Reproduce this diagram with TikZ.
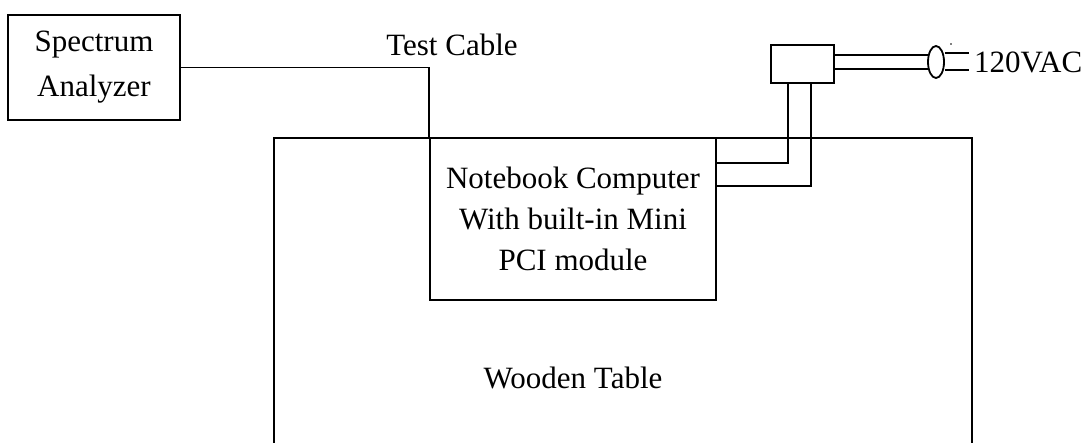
\documentclass[tikz,border=0pt]{standalone}
\usepackage{fontspec}
\setmainfont{Liberation Serif}
\usetikzlibrary{positioning,calc,shapes.geometric}

\begin{document}
\begin{tikzpicture}[x=1pt,y=-1pt,
  box/.style={rectangle,draw=black,line width=1.8pt,align=center,inner sep=0pt},
  lbl/.style={font=\fontsize{31}{45}\selectfont,inner sep=0pt},
  wire/.style={line width=1.8pt,color=black}]
\useasboundingbox (0,0) rectangle (1089,443);
% table outline, open at the bottom
\draw[wire] (274,446) -- (274,138) -- (972,138) -- (972,446);
\node[lbl] (tbl) at (573,378) {Wooden Table};
\node[box,minimum width=172pt,minimum height=105pt,font=\fontsize{31}{45}\selectfont] (sa) at (94,67.5) {Spectrum\\Analyzer};
\node[box,minimum width=286pt,minimum height=162pt,font=\fontsize{31}{41}\selectfont] (nb) at (573,219) {Notebook Computer\\With built-in Mini\\PCI module};
\node[box,minimum width=63pt,minimum height=38pt] (ad) at (802.5,64) {};
\node[lbl] (tc) at (452,45) {Test Cable};
% cable from analyzer to notebook
\draw[wire] (sa.east) -| (nb.north west);
% power cords
\draw[wire] ([yshift=9pt]ad.east) -- ([yshift=7pt]928,62);
\draw[wire] ([yshift=-5pt]ad.east) -- ([yshift=-7pt]928,62);
\node[ellipse,draw=black,fill=white,line width=1.8pt,minimum width=16pt,minimum height=32pt,inner sep=0pt] (pl) at (936,62) {};
\draw[wire] ([yshift=9pt]pl.east) -- ++(24,0);
\draw[wire] ([yshift=-8pt]pl.east) -- ++(24,0);
\fill (951,44) circle (0.9pt);
\node[lbl,anchor=west] (vac) at (974,62) {120VAC};
\draw[wire] ([xshift=-14.5pt]ad.south) |- ([yshift=56pt]nb.east);
\draw[wire] ([xshift=8.5pt]ad.south) |- ([yshift=33pt]nb.east);
\end{tikzpicture}
\end{document}
